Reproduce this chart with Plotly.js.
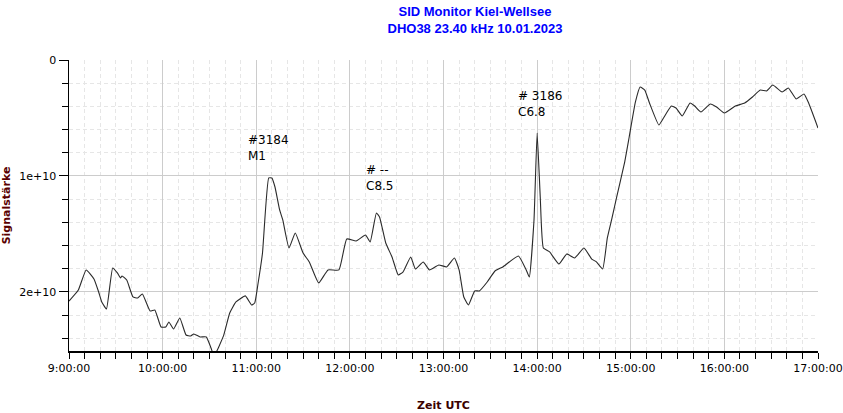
<!DOCTYPE html>
<html>
<head>
<meta charset="utf-8">
<script src="https://cdn.plot.ly/plotly-3.0.1.min.js"></script>
<style>html,body{margin:0;padding:0;background:#fff;}#chart{width:843px;height:413px;}</style>
</head>
<body>
<div id="chart"></div>
<script>
const day = '2023-01-10 ';
const times = ['09:00','09:06','09:11','09:16','09:19','09:21','09:24','09:28','09:31','09:33','09:34','09:37','09:41','09:44','09:47','09:52','09:55','09:59',
'10:02','10:04','10:07','10:11','10:15','10:18','10:20','10:24','10:28','10:31','10:33','10:39','10:43','10:47','10:53','10:57','10:59',
'11:01','11:04','11:08','11:10','11:12','11:15','11:17','11:21','11:25','11:30','11:34','11:40','11:46','11:53','11:58',
'12:04','12:10','12:13','12:17','12:19','12:23','12:27','12:31','12:34','12:39','12:42','12:47','12:51','12:57',
'13:02','13:07','13:10','13:13','13:16','13:20','13:23','13:28','13:33','13:38','13:48','13:53','13:55','13:58',
'14:00','14:02','14:04','14:08','14:14','14:19','14:24','14:30','14:35','14:38','14:42','14:45','14:48','14:51','14:56','14:59',
'15:03','15:06','15:09','15:12','15:18','15:21','15:26','15:29','15:33','15:38','15:41','15:45','15:51','15:55',
'16:00','16:07','16:13','16:18','16:23','16:27','16:31','16:37','16:41','16:46','16:51','16:54','17:00'];
const signal = [2.078e10,1.983e10,1.810e10,1.888e10,2.000e10,2.086e10,2.147e10,1.793e10,1.836e10,1.879e10,1.862e10,1.897e10,2.043e10,2.052e10,2.017e10,2.164e10,2.155e10,2.302e10,
2.302e10,2.259e10,2.319e10,2.224e10,2.371e10,2.379e10,2.362e10,2.388e10,2.388e10,2.483e10,2.550e10,2.379e10,2.181e10,2.086e10,2.034e10,2.112e10,2.095e10,
1.940e10,1.664e10,1.017e10,1.017e10,1.095e10,1.293e10,1.379e10,1.621e10,1.491e10,1.664e10,1.741e10,1.922e10,1.810e10,1.810e10,1.543e10,
1.560e10,1.509e10,1.569e10,1.319e10,1.353e10,1.578e10,1.698e10,1.853e10,1.828e10,1.698e10,1.802e10,1.741e10,1.810e10,1.767e10,
1.784e10,1.707e10,1.810e10,2.043e10,2.112e10,1.991e10,1.991e10,1.914e10,1.819e10,1.784e10,1.690e10,1.810e10,1.871e10,1.379e10,
0.629e10,1.181e10,1.621e10,1.655e10,1.759e10,1.672e10,1.707e10,1.621e10,1.716e10,1.741e10,1.802e10,1.534e10,1.362e10,1.181e10,0.888e10,0.664e10,
0.362e10,0.233e10,0.259e10,0.371e10,0.560e10,0.500e10,0.397e10,0.414e10,0.483e10,0.371e10,0.397e10,0.448e10,0.379e10,0.405e10,
0.457e10,0.397e10,0.371e10,0.319e10,0.259e10,0.267e10,0.216e10,0.276e10,0.241e10,0.336e10,0.293e10,0.371e10,0.586e10];

const yTickVals = [0, 1e10, 2e10];
const yTickText = ['0', '1e+10', '2e+10'];

const flareTimes = ['10:53:30', '12:09:00', '13:46:30'];
const flareLevels = [0.759e10, 1.020e10, 0.379e10];
const flareLabels = ['#3184<br>M1', '# --<br>C8.5', '# 3186<br>C6.8'];

const FONT = 'DejaVu Sans, Verdana, sans-serif';

const trace = {
  x: times.map(t => day + t),
  y: signal,
  type: 'scatter',
  mode: 'lines',
  line: {color: '#2a2a2a', width: 1.1, shape: 'spline', smoothing: 0.4},
  hoverinfo: 'x+y'
};

const annotations = flareTimes.map((t, i) => ({
  x: day + t, y: flareLevels[i], xref: 'x', yref: 'y',
  text: flareLabels[i], showarrow: false, xanchor: 'left', yanchor: 'middle', align: 'left',
  font: {family: FONT, size: 12, color: '#000000'}
}));

const layout = {
  width: 843, height: 413,
  margin: {l: 69, r: 25, t: 60, b: 62},
  paper_bgcolor: '#ffffff', plot_bgcolor: '#ffffff',
  showlegend: false,
  font: {family: FONT, size: 11, color: '#000000'},
  title: {
    text: 'SID Monitor Kiel-Wellsee<br>DHO38 23.40 kHz 10.01.2023',
    font: {family: 'Liberation Sans, Arial, sans-serif', size: 13, color: '#0000ff', weight: 'bold'},
    x: 0.542, xanchor: 'center', xref: 'paper', yref: 'container', y: 0.962, yanchor: 'middle'
  },
  xaxis: {
    type: 'date',
    range: [day + '09:00', day + '17:00'],
    dtick: 3600000, tick0: day + '09:00',
    tickformat: '%-H:%M:%S',
    ticks: 'outside', ticklen: 6, tickcolor: '#000', tickwidth: 1,
    showline: true, linecolor: '#000', linewidth: 1.5,
    showgrid: true, gridcolor: '#cccccc', gridwidth: 1,
    zeroline: false,
    tickfont: {family: FONT, size: 11, color: '#000'},
    minor: {dtick: 600000, ticks: 'outside', ticklen: 6, tickcolor: '#000', showgrid: true, gridcolor: '#e6e6e6', griddash: '4px,3px', gridwidth: 1},
    title: {text: 'Zeit UTC', font: {family: FONT, size: 11, color: '#3a0000', weight: 'bold'}, standoff: 27}
  },
  yaxis: {
    range: [2.509e10, 0],
    tickmode: 'array', tickvals: yTickVals, ticktext: yTickText,
    ticks: 'outside', ticklen: 9, tickcolor: '#000', tickwidth: 1,
    showline: true, linecolor: '#000', linewidth: 1.5,
    showgrid: true, gridcolor: '#cccccc', gridwidth: 1,
    zeroline: false,
    tickfont: {family: FONT, size: 11, color: '#000'},
    minor: {tickmode: 'linear', tick0: 0, dtick: 2e9, ticks: 'outside', ticklen: 6, tickcolor: '#000', showgrid: true, gridcolor: '#e6e6e6', griddash: '4px,3px', gridwidth: 1},
    title: {text: 'Signalstärke', font: {family: FONT, size: 11, color: '#5a0000', weight: 'bold'}, standoff: 8}
  },
  annotations: annotations
};

Plotly.newPlot('chart', [trace], layout, {displayModeBar: false, staticPlot: true});
</script>
</body>
</html>
